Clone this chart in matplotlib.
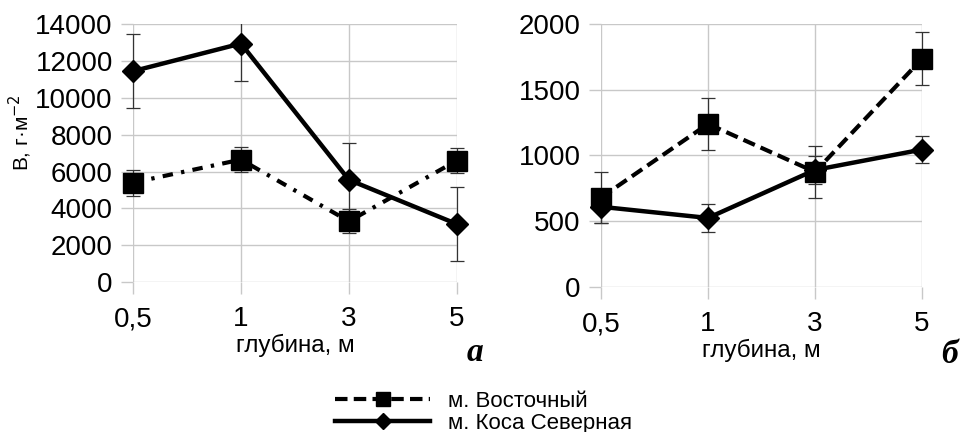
import matplotlib
matplotlib.use("Agg")
import matplotlib.pyplot as plt
from matplotlib.lines import Line2D
from matplotlib.transforms import Bbox, TransformedBbox

plt.rcParams["font.family"] = ["Liberation Sans", "DejaVu Sans"]

depths = ["0,5", "1", "3", "5"]

# panel a
vost_a = [5400, 6650, 3300, 6600]
vost_a_err = [700, 700, 650, 700]
kosa_a = [11450, 12950, 5550, 3150]
kosa_a_err = [2000, 2050, 2000, 2000]

# panel b
vost_b = [680, 1240, 875, 1735]
vost_b_err = [195, 200, 195, 200]
kosa_b = [610, 525, 890, 1045]
kosa_b_err = [125, 105, 105, 105]

labels = ["м. Восточный", "м. Коса Северная"]

fig = plt.figure(figsize=(9.67, 4.32), dpi=100)
ax_a = fig.add_axes([0.1375, 0.347, 0.335, 0.597])
ax_b = fig.add_axes([0.6215, 0.3356, 0.332, 0.609])

grid_c = "#c8c8c8"


def unclip_x(ax, cont):
    # let marks spill over left/right edges, still clip at top/bottom
    box = TransformedBbox(Bbox([[-0.1, -0.05], [1.1, 1.0]]), ax.transAxes)
    line, caps, bars = cont.lines
    for art in [line, *caps, *bars]:
        if art is not None:
            art.set_clip_box(box)


def draw(ax, vost, vost_err, kosa, kosa_err, vost_dash, ylim, yticks):
    x = list(range(len(depths)))
    c1 = ax.errorbar(x, vost, yerr=vost_err, color="black", lw=3, marker="s",
                     markersize=14, ecolor="#333333", elinewidth=0.9, capsize=5,
                     capthick=0.9, dashes=vost_dash, zorder=3)
    c2 = ax.errorbar(x, kosa, yerr=kosa_err, color="black", lw=3.2, marker="D",
                     markersize=11, ecolor="#333333", elinewidth=0.9, capsize=5,
                     capthick=0.9, zorder=3)
    unclip_x(ax, c1)
    unclip_x(ax, c2)
    ax.set_xlim(0, len(depths) - 1)
    ax.set_ylim(*ylim)
    ax.set_yticks(yticks)
    ax.set_xticks(x)
    ax.set_xticklabels(depths)
    ax.grid(True, color=grid_c, lw=1)
    ax.set_axisbelow(True)
    for s in ax.spines.values():
        s.set_visible(False)
    ax.tick_params(axis="both", length=8.5, color=grid_c, width=1,
                   labelsize=20)
    ax.tick_params(axis="y", pad=6)
    ax.tick_params(axis="x", pad=9)
    ax.set_xlabel("глубина, м", fontsize=17.5, labelpad=1)


draw(ax_a, vost_a, vost_a_err, kosa_a, kosa_a_err, (2.5, 2, 0.8, 2),
     (0, 14000), range(0, 14001, 2000))
draw(ax_b, vost_b, vost_b_err, kosa_b, kosa_b_err, (3, 1.5),
     (0, 2000), range(0, 2001, 500))

ax_a.set_ylabel("В, г·м$^{-2}$", fontsize=15)
ax_a.yaxis.set_label_coords(-0.305, 0.58)

fig.text(0.491, 0.185, "а", fontsize=24, family="Liberation Serif",
         style="italic", weight="bold", ha="center", va="center")
fig.text(0.982, 0.18, "б", fontsize=24, family="Liberation Serif",
         style="italic", weight="bold", ha="center", va="center")

handles = [
    Line2D([], [], color="black", lw=3, marker="s", markersize=10,
           dashes=(3, 1.5)),
    Line2D([], [], color="black", lw=3.2, marker="D", markersize=8),
]
fig.legend(handles, labels, loc="lower center", bbox_to_anchor=(0.5, -0.025),
           frameon=False, fontsize=16, handlelength=4.3, labelspacing=0.05,
           handletextpad=0.8, borderaxespad=0)

fig.savefig("out.png", dpi=100)
